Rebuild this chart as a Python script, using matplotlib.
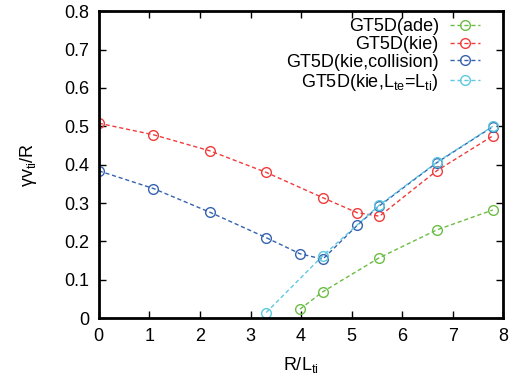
import numpy as np
import matplotlib
matplotlib.use("Agg")
import matplotlib.pyplot as plt

plt.rcParams['font.family'] = ['Liberation Sans', 'DejaVu Sans']
plt.rcParams['mathtext.default'] = 'regular'

# data
x_ade = [3.98, 4.43, 5.55, 6.68, 7.79]
y_ade = [0.024, 0.069, 0.158, 0.230, 0.282]

x_kie = [0.0, 1.08, 2.2, 3.31, 4.43, 5.11, 5.55, 6.68, 7.79]
y_kie = [0.508, 0.478, 0.436, 0.380, 0.314, 0.275, 0.266, 0.384, 0.475]

x_col = [0.0, 1.08, 2.2, 3.31, 3.98, 4.43, 5.11, 5.55, 6.68, 7.79]
y_col = [0.384, 0.338, 0.276, 0.210, 0.168, 0.154, 0.242, 0.293, 0.405, 0.499]

x_lte = [3.31, 4.43, 5.55, 6.68, 7.79]
y_lte = [0.015, 0.163, 0.295, 0.406, 0.500]

labels = ["GT5D(ade)", "GT5D(kie)", "GT5D(kie,collision)",
          "GT5D(kie,L$_{te}$=L$_{ti}$)"]
colors = ["#6cbd45", "#f03c3c", "#3563b0", "#5ec8df"]

fig = plt.figure(figsize=(5.2, 3.81), dpi=100)
ax = fig.add_axes([0.19, 0.1646, 0.778, 0.8062])

series = [(x_ade, y_ade), (x_kie, y_kie), (x_col, y_col), (x_lte, y_lte)]
for (xs, ys), lab, c in zip(series, labels, colors):
    ax.plot(xs, ys, color=c, lw=1, linestyle=(0, (3, 2)), marker='o',
            markersize=7, markerfacecolor='none', markeredgecolor=c,
            markeredgewidth=1, label=lab)

ax.set_xlim(0, 8)
ax.set_ylim(0, 0.8)
ax.set_xticks(np.arange(0, 9, 1))
ax.set_yticks(np.arange(0, 0.81, 0.1))
ax.set_xticklabels([str(i) for i in range(9)])
ax.set_yticklabels(['0'] + ['%.1f' % v for v in np.arange(0.1, 0.81, 0.1)])
ax.tick_params(direction='in', length=5, width=1, top=True, right=True,
               labelsize=13, pad=7)
for s in ax.spines.values():
    s.set_linewidth(2)

ax.set_xlabel("R/L$_{ti}$", fontsize=13, labelpad=7)
ax.set_ylabel("γv$_{ti}$/R", fontsize=13, labelpad=18)

ax.legend(loc='upper right', frameon=False, markerfirst=False, fontsize=13,
          handlelength=1.7, handletextpad=0.6, labelspacing=0.05,
          borderaxespad=0.2, bbox_to_anchor=(0.97, 1.013))

fig.savefig("out.png", dpi=100)
